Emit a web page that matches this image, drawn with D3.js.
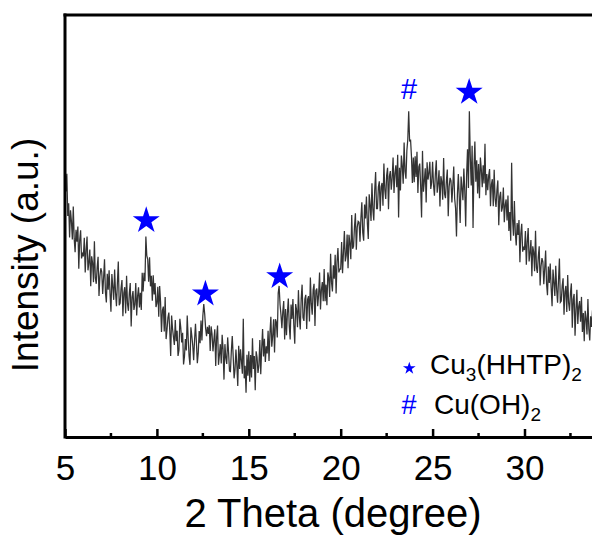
<!DOCTYPE html>
<html>
<head>
<meta charset="utf-8">
<script src="https://cdn.jsdelivr.net/npm/d3@7"></script>
<style>
  html, body { margin: 0; padding: 0; background: #fff; }
  svg { display: block; }
  text { font-family: "Liberation Sans", Arial, Helvetica, sans-serif; }
</style>
</head>
<body>
<div id="chart"></div>
<script>
// XRD pattern: intensity (a.u.) sampled every 0.05 degree of 2θ, starting at 5°
const twoThetaStart = 5;
const twoThetaStep = 0.05;
const intensity = [
  // 5°
  649,582,624,524,554,473,537,511,468,546,470,438,491,463,499,399,467,490,423,434,
  // 6°
  428,472,390,444,475,395,414,444,357,428,413,367,464,377,363,402,427,334,381,400,
  // 7°
  391,339,377,421,343,319,387,349,395,340,297,386,356,325,397,342,310,365,416,312,
  // 8°
  317,353,372,286,341,355,293,382,316,299,341,365,262,331,346,301,314,365,288,334,
  // 9°
  355,307,342,301,389,345,389,369,475,430,421,368,426,357,382,323,383,338,365,308,
  // 10°
  317,356,285,358,319,249,300,309,250,332,232,254,283,295,252,192,288,257,237,218,
  // 11°
  277,227,252,192,206,280,259,224,247,172,191,232,205,288,235,192,171,260,240,217,
  // 12°
  182,231,268,224,175,200,251,222,276,229,287,315,292,258,239,261,244,265,204,262,
  // 13°
  244,203,230,255,168,237,264,171,194,220,174,242,208,136,220,188,173,236,201,156,
  // 14°
  155,204,239,192,139,160,207,170,121,216,161,208,180,150,280,139,169,105,195,145,
  // 15°
  203,131,194,141,234,161,192,111,203,188,152,170,230,149,209,256,191,233,178,215,
  // 16°
  198,252,180,245,285,214,240,279,200,279,272,236,341,358,314,290,258,297,322,231,
  // 17°
  303,241,293,328,264,231,314,280,327,264,221,315,300,260,348,284,255,327,361,283,
  // 18°
  275,327,337,256,326,334,274,378,316,290,348,363,263,347,352,310,338,390,302,349,
  // 19°
  367,322,398,322,361,312,390,377,332,434,367,345,407,375,432,340,416,448,390,398,
  // 20°
  398,462,388,438,488,416,430,480,400,479,459,421,526,446,452,498,530,444,497,511,
  // 21°
  509,463,519,556,484,465,551,518,570,507,469,575,550,512,601,539,513,584,628,541,
  // 22°
  541,592,606,535,593,602,548,648,586,564,620,638,540,618,630,586,614,662,578,625,
  // 23°
  644,592,669,520,638,584,667,643,600,698,629,612,679,705,772,700,705,665,602,662,
  // 24°
  604,665,616,676,578,640,648,594,520,678,581,606,637,556,651,610,625,652,588,603,
  // 25°
  652,597,572,623,656,579,600,632,546,618,605,562,661,576,566,607,634,523,593,614,
  // 26°
  607,556,596,641,565,542,475,576,623,569,507,617,590,561,636,584,499,620,682,590,
  // 27°
  772,665,596,690,495,638,700,605,656,577,647,566,662,634,592,644,601,695,573,623,
  // 28°
  585,619,635,547,599,611,547,633,565,545,585,608,502,569,581,534,544,591,509,550,
  // 29°
  563,513,572,488,533,465,650,516,477,559,484,454,507,479,514,414,482,505,439,451,
  // 30°
  443,488,408,463,495,416,436,467,381,452,438,393,489,402,389,427,452,359,405,424,
  // 31°
  415,362,399,442,363,336,404,365,411,354,310,397,367,334,406,350,318,372,423,319,
  // 32°
  322,358,376,290,344,358,296,384,318,299,341,364,259,326,339,240,302,349,268,309,
  // 33°
  322,273,332,249,294,227,299,281,243,327,256,229,286,261,300,203,273,299,235,248,
  // 34°
  270
];

// Axis ticks
const majorTicks = [5, 10, 15, 20, 25, 30];
const minorTicks = [7.5, 12.5, 17.5, 22.5, 27.5, 32.5];

// Phase assignment of reflections: 2θ position and the intensity level of the marker
const hhtpPeaks = [9.42, 12.64, 16.68, 26.99];
const hhtpMarkLevel = [513, 339, 380, 817];
const hydroxidePeaks = [23.72];
const hydroxideMarkLevel = [825];

const legendItems = [
  { symbol: "star", base: "Cu", sub1: "3", mid: "(HHTP)", sub2: "2" },
  { symbol: "#", base: "Cu(OH)", sub1: "", mid: "", sub2: "2" }
];

const W = 592, H = 536;
const margin = { left: 65, top: 15, bottom: 437 };
const xRight = 616.4;

const svg = d3.select("#chart").append("svg")
  .attr("width", W).attr("height", H);

const x = d3.scaleLinear().domain([5, 35]).range([margin.left, xRight]);
const y = d3.scaleLinear().domain([0, 1000]).range([margin.bottom, margin.top]);

const points = intensity.map((v, i) => [twoThetaStart + i * twoThetaStep, v]);

svg.append("defs").append("clipPath").attr("id", "plotClip")
  .append("rect")
  .attr("x", margin.left).attr("y", margin.top)
  .attr("width", xRight - margin.left).attr("height", margin.bottom - margin.top);

// Diffraction trace
svg.append("path")
  .datum(points)
  .attr("clip-path", "url(#plotClip)")
  .attr("fill", "none")
  .attr("stroke", "#333333")
  .attr("stroke-width", 1.25)
  .attr("stroke-linejoin", "miter")
  .attr("d", d3.line().x(d => x(d[0])).y(d => y(d[1])));

// Bottom axis with inward ticks
const xAxis = d3.axisBottom(x)
  .tickValues(majorTicks)
  .tickFormat(d3.format("d"))
  .tickSize(-8)
  .tickSizeOuter(0)
  .tickPadding(18);

const gx = svg.append("g")
  .attr("transform", `translate(0,${margin.bottom})`)
  .call(xAxis);
gx.select(".domain").attr("stroke", "#000").attr("stroke-width", 3);
gx.selectAll(".tick line").attr("stroke", "#000").attr("stroke-width", 2.5);
gx.selectAll(".tick text")
  .attr("fill", "#000")
  .style("font-size", "35px");

gx.selectAll(".minor")
  .data(minorTicks)
  .enter().append("line")
  .attr("class", "minor")
  .attr("x1", d => x(d)).attr("x2", d => x(d))
  .attr("y1", 0).attr("y2", -4)
  .attr("stroke", "#000").attr("stroke-width", 2.5);

// Left and top frame lines
svg.append("line")
  .attr("x1", margin.left).attr("x2", margin.left)
  .attr("y1", margin.top - 1.5).attr("y2", margin.bottom + 1.5)
  .attr("stroke", "#000").attr("stroke-width", 3);
svg.append("line")
  .attr("x1", margin.left - 1.5).attr("x2", xRight)
  .attr("y1", margin.top).attr("y2", margin.top)
  .attr("stroke", "#000").attr("stroke-width", 3);

// Axis titles
svg.append("text")
  .attr("x", 333).attr("y", 527)
  .attr("text-anchor", "middle")
  .style("font-size", "40px")
  .attr("fill", "#000")
  .text("2 Theta (degree)");

svg.append("text")
  .attr("transform", "translate(38,255) rotate(-90)")
  .attr("text-anchor", "middle")
  .style("font-size", "37px")
  .attr("fill", "#000")
  .text("Intensity (a.u.)");

// Phase markers above the reflections
const blue = "#0000ff";
const bigStar = d3.symbol().type(d3.symbolStar).size(226);

svg.selectAll(".hhtp-mark")
  .data(hhtpPeaks)
  .enter().append("path")
  .attr("class", "hhtp-mark")
  .attr("d", bigStar)
  .attr("fill", blue)
  .attr("transform", (d, i) => `translate(${x(d)},${y(hhtpMarkLevel[i])})`);

svg.selectAll(".hydroxide-mark")
  .data(hydroxidePeaks)
  .enter().append("text")
  .attr("class", "hydroxide-mark")
  .attr("x", d => x(d))
  .attr("y", (d, i) => y(hydroxideMarkLevel[i]))
  .attr("dy", "0.35em")
  .attr("text-anchor", "middle")
  .attr("fill", blue)
  .style("font-size", "29px")
  .text("#");

// Legend
const legend = svg.append("g");
const legendRows = [
  { sx: 409.3, sy: 368.3, tx: 430, ty: 373.5 },
  { sx: 409, sy: 405, tx: 434, ty: 414 }
];
legendItems.forEach((item, i) => {
  const r = legendRows[i];
  if (item.symbol === "star") {
    legend.append("path")
      .attr("d", d3.symbol().type(d3.symbolStar).size(50))
      .attr("fill", blue)
      .attr("transform", `translate(${r.sx},${r.sy})`);
  } else {
    legend.append("text")
      .attr("x", r.sx).attr("y", r.sy)
      .attr("dy", "0.35em")
      .attr("text-anchor", "middle")
      .attr("fill", blue)
      .style("font-size", "27px")
      .text(item.symbol);
  }
  const t = legend.append("text")
    .attr("x", r.tx).attr("y", r.ty)
    .attr("fill", "#000")
    .style("font-size", "28px");
  t.append("tspan").text(item.base);
  if (item.sub1) {
    t.append("tspan").attr("dy", 7).style("font-size", "19px").text(item.sub1);
    t.append("tspan").attr("dy", -7).text(item.mid);
  }
  t.append("tspan").attr("dy", 7).style("font-size", "19px").text(item.sub2);
});
</script>
</body>
</html>
